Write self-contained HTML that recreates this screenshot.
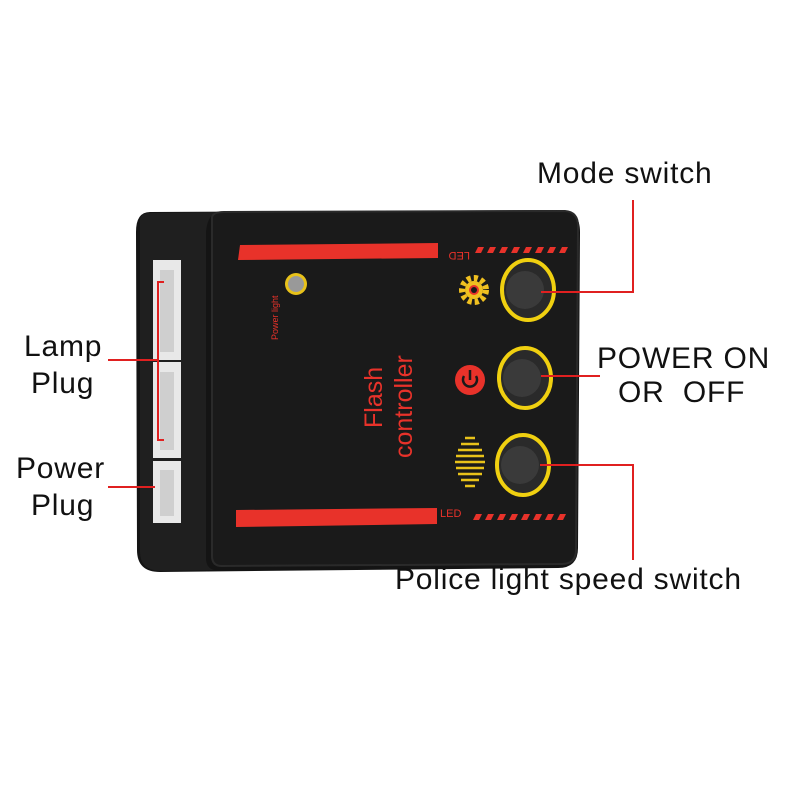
<!DOCTYPE html>
<html><head><style>body{margin:0;background:#fff}svg{display:block}</style></head><body>
<svg width="800" height="800" viewBox="0 0 800 800" font-family="Liberation Sans, sans-serif">
<rect width="800" height="800" fill="#fff"/>
<path d="M150 212 L560 210 Q580 210 580 232 L578 548 Q578 568 558 568 L160 572 Q137 572 137 550 L136 232 Q136 212 150 212Z" fill="#141414"/>
<path d="M140 220 Q140 213 150 213 L215 212 Q207 218 206 232 L206 558 Q206 568 214 570 L160 571 Q140 570 140 552Z" fill="#1f1f1f"/>
<path d="M212 218 Q212 212 224 212 L565 211 Q578 212 578 226 L576 550 Q576 564 562 564 L222 566 Q212 566 212 556Z" fill="#1a1a1a" stroke="#2a2a2a" stroke-width="2"/>
<rect x="153" y="260" width="28" height="100" fill="#e8e8e8"/>
<rect x="153" y="362" width="28" height="96" fill="#e8e8e8"/>
<rect x="153" y="461" width="28" height="62" fill="#e8e8e8"/>
<rect x="160" y="270" width="14" height="82" fill="#cfcfcf"/>
<rect x="160" y="372" width="14" height="78" fill="#cfcfcf"/>
<rect x="160" y="470" width="14" height="46" fill="#cfcfcf"/>
<path d="M164 282 H158 V440 H164" fill="none" stroke="#e02020" stroke-width="2"/>
<path d="M240 245 L438 243 L438 258 L238 260Z" fill="#e8322a"/>
<path d="M236 510 L437 508 L437 524 L236 527Z" fill="#e8322a"/>
<text x="0" y="0" font-size="11" fill="#e8322a" transform="translate(470,252) rotate(180)">LED</text>
<text x="440" y="517" font-size="11" fill="#e8322a">LED</text>
<g fill="#e8322a">
<path d="M478 247h6l-3 6h-6z M490 247h6l-3 6h-6z M502 247h6l-3 6h-6z M514 247h6l-3 6h-6z M526 247h6l-3 6h-6z M538 247h6l-3 6h-6z M550 247h6l-3 6h-6z M562 247h6l-3 6h-6z"/>
<path d="M476 514h6l-3 6h-6z M488 514h6l-3 6h-6z M500 514h6l-3 6h-6z M512 514h6l-3 6h-6z M524 514h6l-3 6h-6z M536 514h6l-3 6h-6z M548 514h6l-3 6h-6z M560 514h6l-3 6h-6z"/>
</g>
<circle cx="296" cy="284" r="11" fill="#e8c21a"/><circle cx="296" cy="284" r="8" fill="#999"/>
<text font-size="9" fill="#e8322a" transform="translate(278,340) rotate(-90)">Power light</text>
<text font-size="25" fill="#e8322a" transform="translate(382,428) rotate(-90)">Flash</text>
<text font-size="25" fill="#e8322a" transform="translate(412,458) rotate(-90)">controller</text>
<circle cx="474" cy="290" r="12" fill="none" stroke="#f0c020" stroke-width="6" stroke-dasharray="4 3"/>
<circle cx="474" cy="290" r="9" fill="#f0c020"/><circle cx="474" cy="290" r="5" fill="#e8322a"/><circle cx="474" cy="290" r="3" fill="#1a1a1a"/>
<circle cx="470" cy="380" r="15" fill="#e8322a"/>
<path d="M464 376 A7 7 0 1 0 476 376" fill="none" stroke="#1a1a1a" stroke-width="2.5"/><line x1="470" y1="370" x2="470" y2="380" stroke="#1a1a1a" stroke-width="2.5"/>
<g stroke="#e8c21a" stroke-width="2.5">
<line x1="465" y1="438" x2="475" y2="438"/><line x1="461" y1="444" x2="479" y2="444"/><line x1="458" y1="450" x2="482" y2="450"/><line x1="456" y1="456" x2="484" y2="456"/><line x1="455" y1="462" x2="485" y2="462"/><line x1="456" y1="468" x2="484" y2="468"/><line x1="458" y1="474" x2="482" y2="474"/><line x1="461" y1="480" x2="479" y2="480"/><line x1="465" y1="486" x2="475" y2="486"/>
</g>
<g stroke="#f0d010" stroke-width="4" fill="#2a2a2a">
<ellipse cx="528" cy="290" rx="26" ry="30"/><ellipse cx="525" cy="378" rx="26" ry="30"/><ellipse cx="523" cy="465" rx="26" ry="30"/>
</g>
<g fill="#3a3a3a"><circle cx="525" cy="290" r="19"/><circle cx="522" cy="378" r="19"/><circle cx="520" cy="465" r="19"/></g>
<g fill="none" stroke="#e02020" stroke-width="2">
<path d="M541 292 H633 V200"/>
<path d="M541 376 H600"/>
<path d="M540 465 H633 V560"/>
<path d="M108 360 H158"/>
<path d="M108 487 H155"/>
</g>
<g font-size="30" fill="#111" letter-spacing="0.8">
<text x="537" y="183">Mode switch</text>
<text x="597" y="368">POWER ON</text>
<text x="618" y="402" xml:space="preserve">OR  OFF</text>
<text x="24" y="356">Lamp</text>
<text x="31" y="393">Plug</text>
<text x="16" y="478">Power</text>
<text x="31" y="515">Plug</text>
<text x="395" y="589">Police light speed switch</text>
</g>
</svg>
</body></html>
